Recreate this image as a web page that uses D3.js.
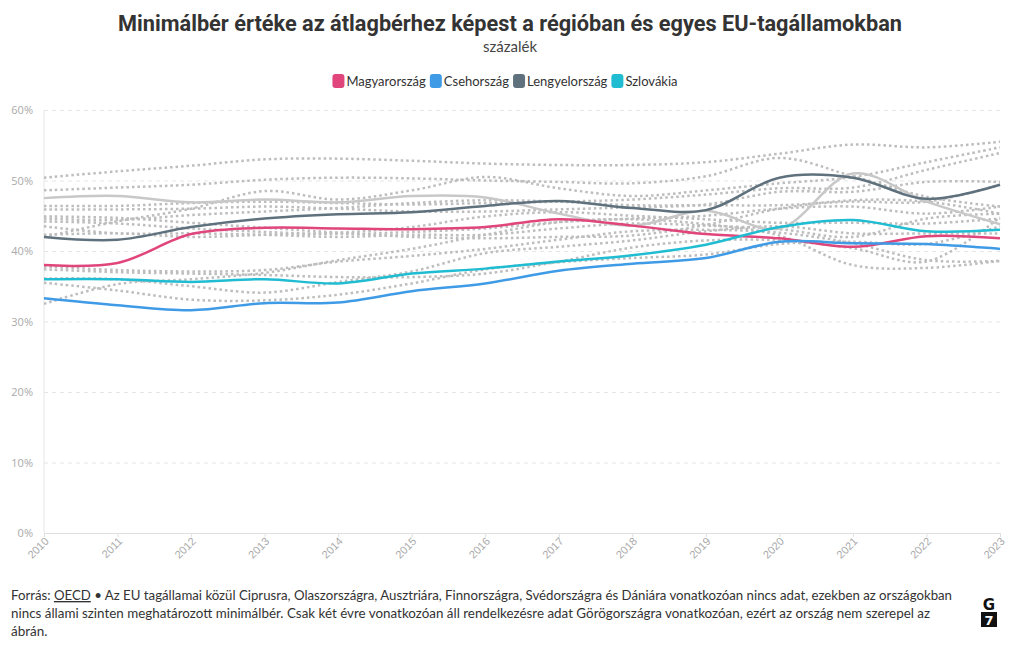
<!DOCTYPE html>
<html><head><meta charset="utf-8">
<script src="https://cdn.jsdelivr.net/npm/d3@7"></script>
<style>
body{margin:0;background:#fff;}
svg{display:block;font-family:"Open Sans","Noto Sans",sans-serif;}
</style></head>
<body><svg id="c" width="1020" height="650"></svg>
<script>
const years = [2010,2011,2012,2013,2014,2015,2016,2017,2018,2019,2020,2021,2022,2023];
const yTicks = [0,10,20,30,40,50,60];

const hungary   = [38.0,38.3,42.4,43.3,43.2,43.1,43.4,44.5,43.6,42.4,41.8,40.6,42.1,41.8];
const czechia   = [33.3,32.3,31.6,32.6,32.7,34.3,35.4,37.2,38.2,39.0,41.3,41.1,41.0,40.3];
const poland    = [42.0,41.6,43.4,44.6,45.2,45.5,46.4,47.1,46.1,45.8,50.4,50.4,47.4,49.4];
const slovakia  = [36.0,36.0,35.6,36.0,35.4,36.8,37.5,38.5,39.4,40.9,43.4,44.4,42.8,43.0];
const greySolid = [47.5,47.8,46.9,47.3,46.9,47.8,47.6,45.3,43.6,45.7,43.2,51.0,47.0,43.8];

const others = [
  [50.4,51.3,52.1,53.0,53.1,52.8,52.4,52.2,52.2,52.6,53.8,55.1,54.7,55.5],
  [48.6,49.0,49.4,50.1,50.4,50.3,50.0,49.8,49.6,50.6,53.2,50.6,47.7,46.3],
  [42.0,44.2,46.0,48.5,47.3,48.6,50.5,48.9,47.8,48.6,49.6,50.5,52.6,54.7],
  [46.4,46.4,46.8,47.0,46.8,46.6,46.8,47.0,47.3,48.0,48.9,49.0,51.5,53.9],
  [45.9,45.9,46.0,46.3,46.0,45.6,45.6,45.9,46.2,46.6,48.4,48.4,49.8,49.8],
  [44.6,44.4,45.1,45.6,46.1,46.8,47.2,47.0,46.5,46.5,46.5,47.0,47.0,49.4],
  [44.2,43.9,43.2,42.7,42.4,42.7,43.2,44.1,44.6,45.0,46.0,46.3,45.3,46.3],
  [43.5,42.5,42.5,42.3,42.0,42.3,42.3,43.2,43.9,43.6,43.1,42.0,44.6,45.3],
  [42.3,42.5,42.0,42.3,42.6,43.4,44.9,45.5,45.0,44.5,44.0,44.0,43.9,44.6],
  [37.8,37.3,37.1,37.3,38.5,39.3,40.3,41.6,42.8,43.0,42.6,41.1,38.7,38.6],
  [37.4,37.0,36.8,36.6,36.3,36.3,36.8,38.5,40.5,41.5,41.5,40.4,38.5,44.8],
  [36.1,36.0,35.0,34.1,35.6,37.1,39.7,40.6,41.5,42.8,43.5,42.5,42.5,42.5],
  [32.5,35.3,36.0,36.9,38.7,40.3,42.3,44.1,44.5,43.8,42.2,38.0,37.6,38.6],
  [35.5,34.4,33.1,33.0,33.8,35.4,37.4,38.4,39.0,39.5,41.0,41.3,41.0,43.5],
  [44.9,44.7,44.0,43.3,42.6,42.0,41.8,42.0,42.2,43.7,46.0,47.2,47.0,45.3]
];

const legendNames = ["Magyarország","Csehország","Lengyelország","Szlovákia"];
const legendColors = ["#e0457b","#3f9be6","#5e717d","#1fbcd2"];

const svg = d3.select("#c");
const x = d3.scaleLinear().domain([2010,2023]).range([44,1000]);
const y = d3.scaleLinear().domain([0,60]).range([533,110]);

// Title
svg.append("text").attr("x",510).attr("y",31).attr("text-anchor","middle")
  .attr("font-family","Roboto, sans-serif").attr("font-weight",700).attr("font-size",22)
  .attr("fill","#333").attr("textLength",784).attr("lengthAdjust","spacingAndGlyphs")
  .text("Minimálbér értéke az átlagbérhez képest a régióban és egyes EU-tagállamokban");
svg.append("text").attr("x",510).attr("y",52).attr("text-anchor","middle")
  .attr("font-size",15).attr("fill","#444").attr("font-family","Lato, sans-serif").text("százalék");

// Legend
const lg = svg.append("g");
let lx = 331;
legendNames.forEach((n,i)=>{
  lg.append("rect").attr("x",lx).attr("y",74).attr("width",12).attr("height",14).attr("rx",3)
    .attr("fill",legendColors[i]);
  const t = lg.append("text").attr("x",lx+14).attr("y",86).attr("font-size",13)
    .attr("fill","#333").attr("font-family","Lato, sans-serif").text(n);
  lx += 14 + t.node().getComputedTextLength() + 4;
});
const lw = lx - 4 - 331;
lg.attr("transform",`translate(${505 - lw/2 - 331},0)`);

// Grid
const gridG = svg.append("g").attr("transform","translate(44,0)")
  .call(d3.axisLeft(y).tickValues(yTicks).tickSize(-956).tickFormat(d=>d+"%"));
gridG.select(".domain").remove();
gridG.selectAll(".tick line").attr("stroke","#e6e6e6").attr("stroke-dasharray","4,4")
  .filter(d=>d===0).attr("stroke","#e0e0e0").attr("stroke-dasharray",null);
gridG.selectAll(".tick text").attr("x",-11).attr("fill","#aaa")
  .attr("font-size",11).attr("font-family","'Open Sans',sans-serif");

svg.append("line").attr("x1",44).attr("x2",44).attr("y1",110).attr("y2",533)
  .attr("stroke","#e6e6e6");

const xG = svg.append("g").attr("transform","translate(0,533)")
  .call(d3.axisBottom(x).tickValues(years).tickSize(4).tickFormat(d3.format("d")));
xG.select(".domain").remove();
xG.selectAll(".tick line").attr("stroke","#e0e0e0");
xG.selectAll(".tick text").attr("fill","#aaa").attr("font-size",11)
  .attr("text-anchor","end").attr("dy",0).attr("y",0)
  .attr("transform","translate(5,9) rotate(-45)");

const line = d3.line().x((d,i)=>x(years[i])).y(d=>y(d)).curve(d3.curveCatmullRom.alpha(0.5));

const lines = svg.append("g");
others.forEach(s=>{
  lines.append("path").attr("d",line(s)).attr("fill","none").attr("stroke","#bdbdbd")
    .attr("stroke-width",2.5).attr("stroke-dasharray","2.5,3");
});
lines.append("path").attr("d",line(greySolid)).attr("fill","none").attr("stroke","#c8c8c8")
  .attr("stroke-width",2.5);
[hungary,czechia,poland,slovakia].forEach((s,i)=>{
  lines.append("path").attr("d",line(s)).attr("fill","none").attr("stroke",legendColors[i])
    .attr("stroke-width",2.5);
});

// Footer
const fs = 13.5;
const f1 = svg.append("text").attr("x",11).attr("y",600).attr("font-size",fs).attr("fill","#333")
  .attr("font-family","Lato, sans-serif");
f1.append("tspan").text("Forrás: ");
f1.append("tspan").attr("text-decoration","underline").text("OECD");
f1.append("tspan").text(" • Az EU tagállamai közül Ciprusra, Olaszországra, Ausztriára, Finnországra, Svédországra és Dániára vonatkozóan nincs adat, ezekben az országokban");
f1.attr("textLength",941).attr("lengthAdjust","spacingAndGlyphs");
svg.append("text").attr("x",11).attr("y",618).attr("font-size",fs).attr("fill","#333")
  .attr("font-family","Lato, sans-serif").attr("textLength",919).attr("lengthAdjust","spacingAndGlyphs")
  .text("nincs állami szinten meghatározott minimálbér. Csak két évre vonatkozóan áll rendelkezésre adat Görögországra vonatkozóan, ezért az ország nem szerepel az");
svg.append("text").attr("x",11).attr("y",636).attr("font-size",fs).attr("fill","#333")
  .attr("font-family","Lato, sans-serif").text("ábrán.");

// Logo
svg.append("text").attr("x",989).attr("y",610).attr("text-anchor","middle")
  .attr("font-family","'DejaVu Sans',sans-serif").attr("font-weight",700).attr("font-size",15)
  .attr("fill","#111").text("G");
svg.append("rect").attr("x",981).attr("y",612).attr("width",16).attr("height",15).attr("fill","#111");
svg.append("text").attr("x",989).attr("y",625).attr("text-anchor","middle")
  .attr("font-family","'DejaVu Sans',sans-serif").attr("font-weight",700).attr("font-size",13)
  .attr("fill","#fff").text("7");
</script></body></html>
